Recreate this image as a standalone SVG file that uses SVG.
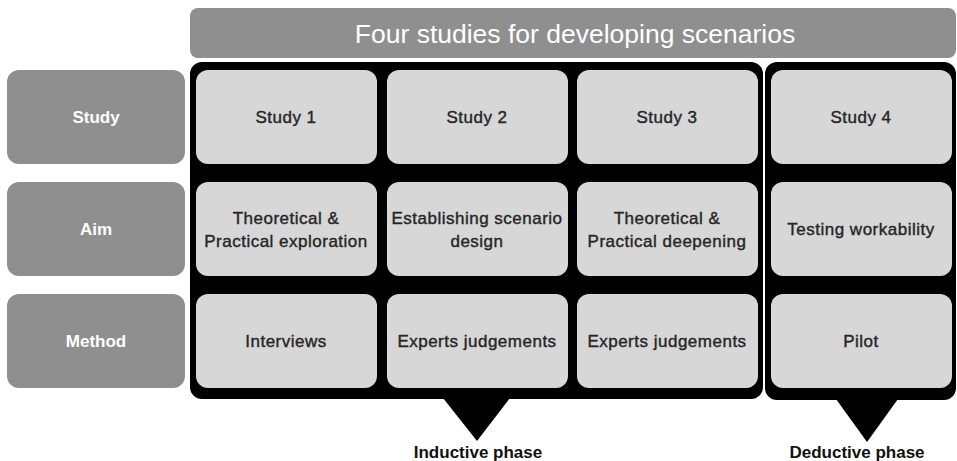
<svg xmlns="http://www.w3.org/2000/svg" width="957" height="461" viewBox="0 0 957 461">
<style>
.hdr{fill:#8f8f8f}
.lbl{fill:#8f8f8f}
.cell{fill:#d7d7d7}
.frame{fill:#000}
.t{font-family:"Liberation Sans",Arial,sans-serif;text-anchor:middle;dominant-baseline:central}
.wt{fill:#fff;font-size:17px;font-weight:bold}
.ct{fill:#262626;stroke:#262626;stroke-width:0.4px;font-size:17px;letter-spacing:0.5px}
.pt{fill:#111;font-size:17px;font-weight:bold}
</style>
<rect width="957" height="461" fill="#fff"/>
<g id="title">
<rect class="hdr" x="190" y="8" width="766" height="50" rx="8"/>
<text class="t" x="575" y="34" fill="#fff" font-size="26.5">Four studies for developing scenarios</text>
</g>
<g id="frames">
<g id="inductive">
<rect class="frame" x="190" y="62" width="573" height="337" rx="12"/>
<polygon class="frame" points="443,398 510,398 477,441"/>
<text class="t pt" x="478" y="452">Inductive phase</text>
</g>
<g id="deductive">
<rect class="frame" x="765" y="62" width="191" height="338" rx="12"/>
<polygon class="frame" points="836,399 898,399 867,442"/>
<text class="t pt" x="857" y="452">Deductive phase</text>
</g>
</g>
<g id="labels">
<g id="lbl-study"><rect class="lbl" x="7" y="70" width="178" height="94" rx="12"/><text class="t wt" x="96" y="117">Study</text></g>
<g id="lbl-aim"><rect class="lbl" x="7" y="182" width="178" height="94" rx="12"/><text class="t wt" x="96" y="229">Aim</text></g>
<g id="lbl-method"><rect class="lbl" x="7" y="294" width="178" height="94" rx="12"/><text class="t wt" x="96" y="341">Method</text></g>
</g>
<g id="cells">
<g id="s1"><rect class="cell" x="196" y="70" width="181" height="94" rx="12"/><text class="t ct" x="286" y="117">Study 1</text></g>
<g id="s2"><rect class="cell" x="387" y="70" width="181" height="94" rx="12"/><text class="t ct" x="477" y="117">Study 2</text></g>
<g id="s3"><rect class="cell" x="577" y="70" width="181" height="94" rx="12"/><text class="t ct" x="667" y="117">Study 3</text></g>
<g id="s4"><rect class="cell" x="771" y="70" width="181" height="94" rx="12"/><text class="t ct" x="861" y="117">Study 4</text></g>
<g id="a1"><rect class="cell" x="196" y="182" width="181" height="94" rx="12"/><text class="t ct" x="286" y="218">Theoretical &amp;</text><text class="t ct" x="286" y="241">Practical exploration</text></g>
<g id="a2"><rect class="cell" x="387" y="182" width="181" height="94" rx="12"/><text class="t ct" x="477" y="218">Establishing scenario</text><text class="t ct" x="477" y="241">design</text></g>
<g id="a3"><rect class="cell" x="577" y="182" width="181" height="94" rx="12"/><text class="t ct" x="667" y="218">Theoretical &amp;</text><text class="t ct" x="667" y="241">Practical deepening</text></g>
<g id="a4"><rect class="cell" x="771" y="182" width="181" height="94" rx="12"/><text class="t ct" x="861" y="229">Testing workability</text></g>
<g id="m1"><rect class="cell" x="196" y="294" width="181" height="94" rx="12"/><text class="t ct" x="286" y="341">Interviews</text></g>
<g id="m2"><rect class="cell" x="387" y="294" width="181" height="94" rx="12"/><text class="t ct" x="477" y="341">Experts judgements</text></g>
<g id="m3"><rect class="cell" x="577" y="294" width="181" height="94" rx="12"/><text class="t ct" x="667" y="341">Experts judgements</text></g>
<g id="m4"><rect class="cell" x="771" y="294" width="181" height="94" rx="12"/><text class="t ct" x="861" y="341">Pilot</text></g>
</g>
<g id="connectors"></g>
</svg>
